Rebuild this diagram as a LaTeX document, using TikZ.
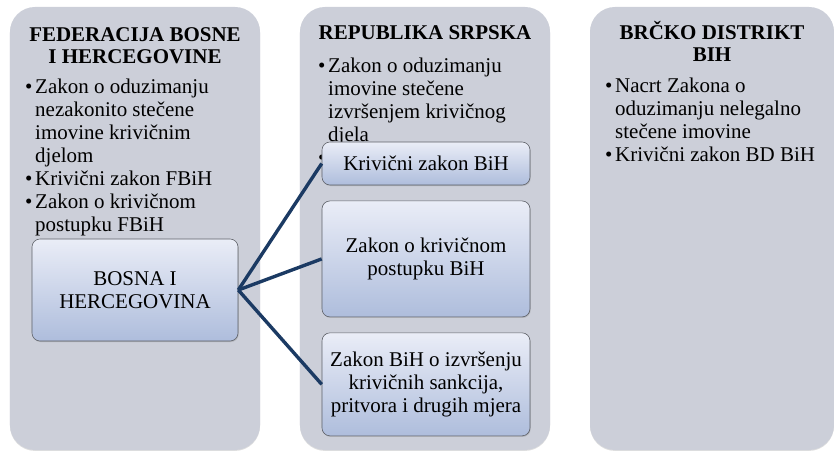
\documentclass[tikz,border=0pt]{standalone}
\usepackage{fontspec}
\setmainfont{Liberation Serif}
\usetikzlibrary{positioning, shadows}
\definecolor{panelgray}{HTML}{CCCFD9}
\definecolor{boxtop}{HTML}{EAEDF7}
\definecolor{boxbottom}{HTML}{AEBDDC}
\definecolor{boxborder}{HTML}{5C5F66}
\definecolor{linknavy}{HTML}{1B3A63}
\newcommand{\bul}{\makebox[0.3cm][l]{\textbullet}}
\newcommand{\ind}{\hspace*{0.3cm}}

\begin{document}
\begin{tikzpicture}[x=0.03cm, y=-0.03cm, node distance=0.46cm,
  every node/.style={font=\fontsize{17.9}{19.6}\selectfont},
  panel/.style={fill=panelgray, rounded corners=0.75cm, minimum width=7.5cm, minimum height=13.29cm, inner sep=0pt,
    drop shadow={opacity=0.25, shadow xshift=0pt, shadow yshift=-0.8pt}},
  title/.style={anchor=base, align=center, inner sep=0pt, font=\fontsize{17.9}{19.6}\selectfont\bfseries},
  list/.style={anchor=base west, align=left, inner sep=0pt},
  lawbox/.style={draw=boxborder, line width=0.5pt, rounded corners=0.24cm, top color=boxtop, bottom color=boxbottom,
    minimum width=6.24cm, align=center, inner sep=2pt,
    drop shadow={opacity=0.35, shadow xshift=0.6pt, shadow yshift=-0.9pt}},
  link/.style={draw=linknavy, line width=2.9pt}]
  \useasboundingbox (0,0) rectangle (834,451);

  % the three panels
  \node[panel] (fed) at (135,228.5) {};
  \node[panel] (rs) at (425,228.5) {};
  \node[panel, minimum width=7.32cm] (brcko) at (712,228.5) {};

  % titles (placed at the baseline of their last line)
  \node[title] (fedtitle) at (135,64) {FEDERACIJA BOSNE\\I HERCEGOVINE};
  \node[title] (rstitle) at (425,40) {REPUBLIKA SRPSKA};
  \node[title] (brckotitle) at (712,62) {BRČKO DISTRIKT\\BIH};

  % laws of each entity
  \node[list] (fedlist) at (25,231) {\bul Zakon o oduzimanju\\ \ind nezakonito stečene\\ \ind imovine krivičnim\\ \ind djelom\\
    \bul Krivični zakon FBiH\\ \bul Zakon o krivičnom\\ \ind postupku FBiH};
  \node[list] (rslist) at (318,164) {\bul Zakon o oduzimanju\\ \ind imovine stečene\\ \ind izvršenjem krivičnog\\ \ind djela\\ \bul};
  \node[list] (brckolist) at (605,161) {\bul Nacrt Zakona o\\ \ind oduzimanju nelegalno\\ \ind stečene imovine\\
    \bul Krivični zakon BD BiH};

  % state level
  \node[lawbox, minimum width=6.18cm, minimum height=3.06cm] (bosna) at (135,290) {BOSNA I\\HERCEGOVINA};
  \node[lawbox, minimum height=1.29cm] (kz) at (426,163.5) {Krivični zakon BiH};
  \node[lawbox, minimum height=3.48cm, below=of kz] (zkp) {Zakon o krivičnom\\postupku BiH};
  \node[lawbox, minimum height=3.09cm, below=of zkp] (zizs) {Zakon BiH o izvršenju\\krivičnih sankcija,\\pritvora i drugih mjera};

  \draw[link] (bosna.east) -- (kz.west);
  \draw[link] (bosna.east) -- (zkp.west);
  \draw[link] (bosna.east) -- (zizs.west);
\end{tikzpicture}
\end{document}
